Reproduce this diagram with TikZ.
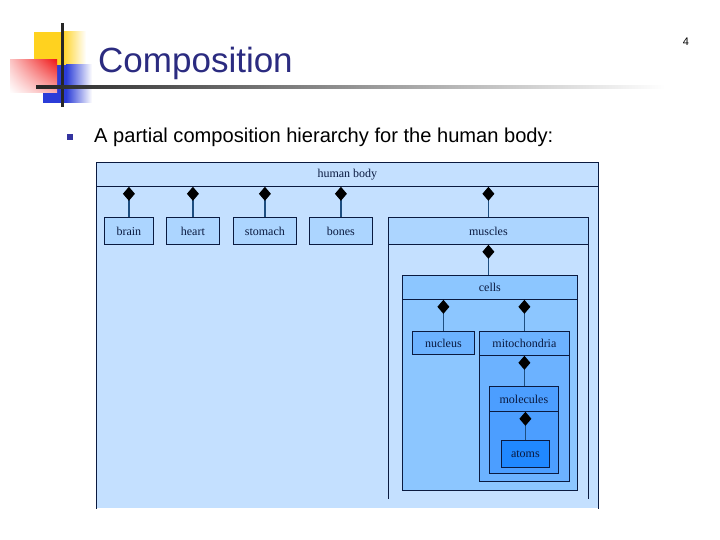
\documentclass[tikz,border=0pt]{standalone}
\usepackage{fontspec}
\setmainfont{Liberation Serif}
\setsansfont{Liberation Sans}
\usepackage{xcolor}
\usepackage{tikz}
\usetikzlibrary{arrows.meta,positioning,calc,shadings}
\definecolor{ink}{HTML}{0A1A40}
\definecolor{titleblue}{HTML}{2B2B80}
\definecolor{bulletblue}{HTML}{3333A0}
\definecolor{wholec}{HTML}{C4E0FF}
\definecolor{partc}{HTML}{ACD5FF}
\definecolor{cellc}{HTML}{8CC6FF}
\definecolor{mitoc}{HTML}{6CB2FF}
\definecolor{molc}{HTML}{4C9EFF}
\definecolor{atomc}{HTML}{2088FF}
\definecolor{linkc}{HTML}{1E4E80}
\definecolor{logoyellow}{HTML}{FFD21F}
\definecolor{logored}{HTML}{F01818}
\definecolor{logoblue}{HTML}{2B3CD8}

\begin{document}
\begin{tikzpicture}[x=1pt,y=-1pt,
  part/.style={draw=ink,line width=0.8pt,anchor=north west,inner sep=0pt,
               font=\rmfamily\fontsize{12}{14}\selectfont,text=ink},
  hdr/.style={part},
  comp/.style={{Diamond[length=14pt,width=12pt,color=black]}-,line width=1.2pt,draw=linkc},
  side/.style={draw=ink,line width=0.8pt}
]
\useasboundingbox (0,0) rectangle (720,540);

% logo
\fill[logoyellow] (34,32) rectangle (62,80);
\shade[left color=logoyellow,right color=white] (62,32) rectangle (86,80);
\fill[logoblue] (43,65) rectangle (66,103);
\shade[left color=logoblue,right color=white] (66,65) rectangle (92,103);
\shade[upper right=logored,upper left=logored!25,lower right=logored!35,lower left=white]
  (10,60) rectangle (57,93);
\fill[black!85] (61,23) rectangle (64,107);
\shade[left color=black!85,right color=white] (36,86) rectangle (665,89);

% texts
\node[anchor=base west,font=\sffamily\fontsize{35}{40}\selectfont,text=titleblue,inner sep=0pt]
  (title) at (98,73) {Composition};
\fill[bulletblue] (67,134) rectangle (73,140);
\node[anchor=base west,font=\sffamily\fontsize{20.1}{24}\selectfont,inner sep=0pt]
  (intro) at (94,143) {A partial composition hierarchy for the human body:};
\node[font=\sffamily\fontsize{11}{12}\selectfont] (pageno) at (686,42) {4};

% container bodies
\fill[wholec] (96,186) rectangle (598,508);
\fill[wholec] (388,244) rectangle (588,498);
\draw[side,fill=cellc] (402,275) rectangle (577,490);
\draw[side,fill=mitoc] (479,331) rectangle (569,481);
\draw[side,fill=molc] (489,386) rectangle (558,473);

% headers
\node[hdr,fill=wholec,minimum width=502pt,minimum height=24pt] (body) at (96,162) {human body};
\node[hdr,fill=partc,minimum width=200pt,minimum height=27pt] (muscles) at (388,217) {muscles};
\node[hdr,fill=cellc,minimum width=175pt,minimum height=24pt] (cells) at (402,275) {cells};
\node[hdr,fill=mitoc,minimum width=90pt,minimum height=24pt] (mito) at (479,331) {mitochondria};
\node[hdr,fill=molc,minimum width=69pt,minimum height=25pt] (molecules) at (489,386) {molecules};
\draw[side] (body.south west) -- ++(0,322);
\draw[side] (body.south east) -- ++(0,322);
\draw[side] (muscles.south west) -- ++(0,254);
\draw[side] (muscles.south east) -- ++(0,254);

% parts
\node[part,fill=partc,minimum width=49pt,minimum height=27pt] (brain) at (104,217) {brain};
\node[part,fill=partc,minimum width=53pt,minimum height=27pt] (heart) at (166,217) {heart};
\node[part,fill=partc,minimum width=63pt,minimum height=27pt] (stomach) at (233,217) {stomach};
\node[part,fill=partc,minimum width=63pt,minimum height=27pt] (bones) at (309,217) {bones};
\node[part,fill=mitoc,minimum width=62pt,minimum height=23pt] (nucleus) at (412,331) {nucleus};
\node[part,fill=atomc,minimum width=48pt,minimum height=27pt] (atoms) at (501,440) {atoms};

% composition links
\foreach \p in {brain,heart,stomach,bones,muscles}
  \draw[comp] (body.south -| \p.north) -- (\p.north);
\draw[comp] (muscles.south) -- (cells.north -| muscles.south);
\draw[comp] (cells.south -| nucleus.north) -- (nucleus.north);
\draw[comp] (cells.south -| mito.north) -- (mito.north);
\draw[comp] (mito.south) -- (molecules.north -| mito.south);
\draw[comp] (molecules.south -| atoms.north) -- (atoms.north);
\end{tikzpicture}
\end{document}
